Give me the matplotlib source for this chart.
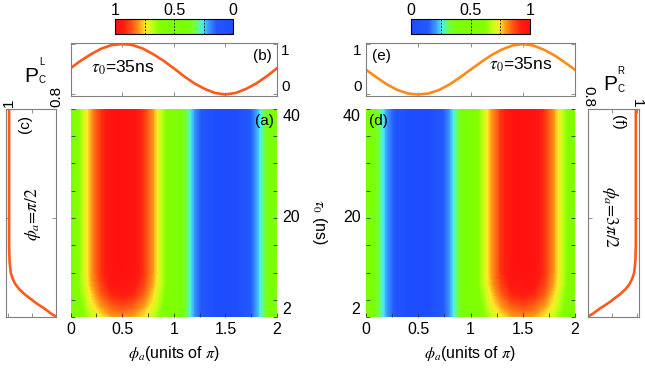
import numpy as np
import matplotlib
matplotlib.use("Agg")
import matplotlib.pyplot as plt
from matplotlib.colors import LinearSegmentedColormap
from matplotlib.cm import ScalarMappable
from matplotlib.colors import Normalize

plt.rcParams['font.family'] = ['Liberation Sans', 'DejaVu Sans']
plt.rcParams['mathtext.fontset'] = 'stix'
plt.rcParams['font.size'] = 11

# --- data ---
phi = [0.0, 0.1, 0.2, 0.3, 0.4, 0.5, 0.6, 0.7, 0.8, 0.9, 1.0,
       1.1, 1.2, 1.3, 1.4, 1.5, 1.6, 1.7, 1.8, 1.9, 2.0]
tau = [2, 3, 4, 5, 6, 8, 10, 12, 40]

# P_C^L(phi, tau), rows follow tau
pl_map = [
    [0.50, 0.59, 0.68, 0.74, 0.79, 0.80, 0.79, 0.74, 0.68, 0.59, 0.50, 0.35, 0.21, 0.10, 0.02, 0.00, 0.02, 0.10, 0.21, 0.35, 0.50],
    [0.50, 0.60, 0.70, 0.77, 0.82, 0.84, 0.82, 0.77, 0.70, 0.60, 0.50, 0.35, 0.21, 0.10, 0.02, 0.00, 0.02, 0.10, 0.21, 0.35, 0.50],
    [0.50, 0.61, 0.72, 0.80, 0.85, 0.87, 0.85, 0.80, 0.72, 0.61, 0.50, 0.35, 0.21, 0.10, 0.02, 0.00, 0.02, 0.10, 0.21, 0.35, 0.50],
    [0.50, 0.62, 0.74, 0.82, 0.88, 0.90, 0.88, 0.82, 0.74, 0.62, 0.50, 0.35, 0.21, 0.10, 0.02, 0.00, 0.02, 0.10, 0.21, 0.35, 0.50],
    [0.50, 0.63, 0.75, 0.85, 0.91, 0.93, 0.91, 0.85, 0.75, 0.63, 0.50, 0.35, 0.21, 0.10, 0.02, 0.00, 0.02, 0.10, 0.21, 0.35, 0.50],
    [0.50, 0.65, 0.78, 0.88, 0.95, 0.97, 0.95, 0.88, 0.78, 0.65, 0.50, 0.35, 0.21, 0.10, 0.02, 0.00, 0.02, 0.10, 0.21, 0.35, 0.50],
    [0.50, 0.65, 0.79, 0.90, 0.97, 0.99, 0.97, 0.90, 0.79, 0.65, 0.50, 0.35, 0.21, 0.10, 0.02, 0.00, 0.02, 0.10, 0.21, 0.35, 0.50],
    [0.50, 0.65, 0.79, 0.90, 0.98, 1.00, 0.98, 0.90, 0.79, 0.65, 0.50, 0.35, 0.21, 0.10, 0.02, 0.00, 0.02, 0.10, 0.21, 0.35, 0.50],
    [0.50, 0.65, 0.79, 0.90, 0.98, 1.00, 0.98, 0.90, 0.79, 0.65, 0.50, 0.35, 0.21, 0.10, 0.02, 0.00, 0.02, 0.10, 0.21, 0.35, 0.50],
]

# P_C^R(phi, tau)
pr_map = [
    [0.50, 0.35, 0.21, 0.10, 0.02, 0.00, 0.02, 0.10, 0.21, 0.35, 0.50, 0.59, 0.68, 0.74, 0.79, 0.80, 0.79, 0.74, 0.68, 0.59, 0.50],
    [0.50, 0.35, 0.21, 0.10, 0.02, 0.00, 0.02, 0.10, 0.21, 0.35, 0.50, 0.60, 0.70, 0.77, 0.82, 0.84, 0.82, 0.77, 0.70, 0.60, 0.50],
    [0.50, 0.35, 0.21, 0.10, 0.02, 0.00, 0.02, 0.10, 0.21, 0.35, 0.50, 0.61, 0.72, 0.80, 0.85, 0.87, 0.85, 0.80, 0.72, 0.61, 0.50],
    [0.50, 0.35, 0.21, 0.10, 0.02, 0.00, 0.02, 0.10, 0.21, 0.35, 0.50, 0.62, 0.74, 0.82, 0.88, 0.90, 0.88, 0.82, 0.74, 0.62, 0.50],
    [0.50, 0.35, 0.21, 0.10, 0.02, 0.00, 0.02, 0.10, 0.21, 0.35, 0.50, 0.63, 0.75, 0.85, 0.91, 0.93, 0.91, 0.85, 0.75, 0.63, 0.50],
    [0.50, 0.35, 0.21, 0.10, 0.02, 0.00, 0.02, 0.10, 0.21, 0.35, 0.50, 0.65, 0.78, 0.88, 0.95, 0.97, 0.95, 0.88, 0.78, 0.65, 0.50],
    [0.50, 0.35, 0.21, 0.10, 0.02, 0.00, 0.02, 0.10, 0.21, 0.35, 0.50, 0.65, 0.79, 0.90, 0.97, 0.99, 0.97, 0.90, 0.79, 0.65, 0.50],
    [0.50, 0.35, 0.21, 0.10, 0.02, 0.00, 0.02, 0.10, 0.21, 0.35, 0.50, 0.65, 0.79, 0.90, 0.98, 1.00, 0.98, 0.90, 0.79, 0.65, 0.50],
    [0.50, 0.35, 0.21, 0.10, 0.02, 0.00, 0.02, 0.10, 0.21, 0.35, 0.50, 0.65, 0.79, 0.90, 0.98, 1.00, 0.98, 0.90, 0.79, 0.65, 0.50],
]

# cuts at tau0 = 35 ns (panels b, e)
pl_cut = [0.52, 0.67, 0.80, 0.91, 0.98, 1.00, 0.98, 0.91, 0.80, 0.67, 0.52,
          0.36, 0.22, 0.11, 0.03, 0.00, 0.03, 0.11, 0.22, 0.36, 0.52]
pr_cut = [0.49, 0.34, 0.20, 0.09, 0.02, 0.00, 0.02, 0.09, 0.20, 0.34, 0.49,
          0.64, 0.78, 0.89, 0.97, 1.00, 0.97, 0.89, 0.78, 0.64, 0.49]

# cuts at phi = pi/2 and 3pi/2 (panels c, f)
tau_cut = [2, 2.5, 3, 3.5, 4, 4.5, 5, 6, 7, 8, 9, 10, 12, 15, 20, 30, 40]
pl_tau = [0.80, 0.82, 0.835, 0.85, 0.868, 0.885, 0.90, 0.93, 0.955, 0.972, 0.983,
          0.99, 0.995, 0.997, 0.997, 0.997, 0.997]
pr_tau = [0.80, 0.82, 0.835, 0.85, 0.868, 0.885, 0.90, 0.93, 0.955, 0.972, 0.983,
          0.99, 0.995, 0.997, 0.997, 0.997, 0.997]

# colour map: blue - cyan - green - yellow - red
cmap = LinearSegmentedColormap.from_list('bgyr', [
    (0.00, '#1e4cff'), (0.14, '#2358ff'), (0.21, '#3c9cff'), (0.26, '#48f0f0'),
    (0.32, '#70ff40'), (0.38, '#7aff08'), (0.62, '#82ff00'), (0.69, '#c8ff18'),
    (0.745, '#ffe828'), (0.80, '#ff9418'), (0.87, '#ff4a12'), (0.93, '#ff1c10'),
    (1.00, '#ff1010')])
levels = np.linspace(0, 1, 101)

W, H = 645, 372
fig = plt.figure(figsize=(6.45, 3.72), dpi=100)


def box(x0, y0, x1, y1):
    return [x0 / W, 1 - y1 / H, (x1 - x0) / W, (y1 - y0) / H]


GRAY = '#7f7f7f'


def frame(ax):
    for s in ax.spines.values():
        s.set_color(GRAY)
        s.set_linewidth(0.8)


def heatmap(ax, data, side):
    ax.contourf(phi, tau, data, levels=levels, cmap=cmap, extend='both')
    ax.set_xlim(0, 2)
    ax.set_ylim(2, 40)
    ax.set_xticks([0, 0.5, 1, 1.5, 2], labels=['0', '0.5', '1', '1.5', '2'])
    ax.set_xticks([0.25, 0.75, 1.25, 1.75], minor=True)
    ax.set_yticks([2, 20, 40], labels=['2', '20', '40'])
    ax.set_yticks([5, 10, 15, 25, 30, 35], minor=True)
    ax.tick_params(which='both', direction='in', length=3, width=0.6,
                   color='#333333', top=False, left=True, right=True,
                   labelleft=(side == 'left'), labelright=(side == 'right'),
                   pad=4, labelsize=11.5)
    for lab, va in zip(ax.get_yticklabels(), ['bottom', 'center', 'top']):
        lab.set_verticalalignment(va)
    ax.set_xlabel(r'$\phi_a$(units of $\pi$)', labelpad=5, fontsize=11.5)
    for s in ax.spines.values():
        s.set_visible(False)


def top_cut(ax, y, color, side):
    ax.plot(phi, y, color=color, lw=1.9)
    ax.set_xlim(0, 2)
    ax.set_ylim(-0.02, 1.02)
    ax.set_xticks([0.5, 1, 1.5], labels=[])
    ax.set_yticks([0, 1], labels=['0', '1'])
    ax.tick_params(which='both', direction='in', length=3, width=0.6, color=GRAY,
                   top=True, bottom=True, left=True, right=True,
                   labelleft=(side == 'left'), labelright=(side == 'right'), pad=3)
    for lab, va in zip(ax.get_yticklabels(), ['bottom', 'top']):
        lab.set_verticalalignment(va)
    frame(ax)


def side_cut(ax, p, color, rot, xlim):
    ax.plot(p, tau_cut, color=color, lw=1.9)
    ax.set_xlim(*xlim)
    ax.set_ylim(2, 40)
    ax.set_xticks([0.8, 0.9, 1.0], labels=['0.8', '', '1'])
    ax.set_yticks([2, 20, 40], labels=[])
    ax.tick_params(which='both', direction='in', length=3, width=0.6, color=GRAY,
                   top=True, bottom=True, left=True, right=True,
                   labelbottom=False, labeltop=True, pad=1)
    for lab in ax.get_xticklabels():
        lab.set_rotation(rot)
    frame(ax)


# heatmaps
ax_a = fig.add_axes(box(70.5, 108.5, 277, 316.5))
heatmap(ax_a, pl_map, 'right')
ax_a.text(0.985, 0.975, '(a)', transform=ax_a.transAxes, ha='right', va='top')

ax_d = fig.add_axes(box(366, 108.5, 575, 316.5))
heatmap(ax_d, pr_map, 'left')
ax_d.text(0.015, 0.975, '(d)', transform=ax_d.transAxes, ha='left', va='top')

fig.text(319 / W, 1 - 222 / H, r'$\tau_0$ (ns)', rotation=270,
         ha='center', va='center', fontsize=11.5)

# cuts along phi
ax_b = fig.add_axes(box(70.5, 43, 277, 95.5))
top_cut(ax_b, pl_cut, '#ff5a1a', 'right')
ax_b.text(0.975, 0.88, '(b)', transform=ax_b.transAxes, ha='right', va='top')
ax_b.text(0.10, 0.52, r'$\tau_0$=35ns', transform=ax_b.transAxes,
          ha='left', va='center', fontsize=12.5)

ax_e = fig.add_axes(box(366, 43, 575, 95.5))
top_cut(ax_e, pr_cut, '#ff8a1a', 'left')
ax_e.text(0.03, 0.88, '(e)', transform=ax_e.transAxes, ha='left', va='top')
ax_e.text(0.59, 0.58, r'$\tau_0$=35ns', transform=ax_e.transAxes,
          ha='left', va='center', fontsize=12.5)

# cuts along tau
ax_c = fig.add_axes(box(6, 108.5, 56, 316.5))
side_cut(ax_c, pl_tau, '#ff5a1a', 90, (1.01, 0.8))
ax_c.text(0.38, 0.97, '(c)', transform=ax_c.transAxes, rotation=90,
          ha='center', va='top')
ax_c.text(0.54, 0.49, r'$\phi_a$=$\pi$/2', transform=ax_c.transAxes,
          rotation=90, ha='center', va='center', fontsize=12.5,
          family='STIXGeneral')

ax_f = fig.add_axes(box(588, 108.5, 639, 316.5))
side_cut(ax_f, pr_tau, '#ff5a1a', -90, (0.8, 1.01))
ax_f.text(0.59, 0.97, '(f)', transform=ax_f.transAxes, rotation=-90,
          ha='center', va='top')
ax_f.text(0.43, 0.48, r'$\phi_a$=3$\pi$/2', transform=ax_f.transAxes,
          rotation=-90, ha='center', va='center', fontsize=12.5,
          family='STIXGeneral')

# P labels
fig.text(31 / W, 1 - 76 / H, 'P', fontsize=15, ha='center', va='center')
fig.text(42 / W, 1 - 80 / H, 'C', fontsize=7, ha='center', va='center')
fig.text(42 / W, 1 - 62 / H, 'L', fontsize=7, ha='center', va='center')
fig.text(610 / W, 1 - 85 / H, 'P', fontsize=15, ha='center', va='center')
fig.text(621 / W, 1 - 89 / H, 'C', fontsize=7, ha='center', va='center')
fig.text(621 / W, 1 - 71 / H, 'R', fontsize=7, ha='center', va='center')

# colour bars
sm = ScalarMappable(norm=Normalize(0, 1), cmap=cmap)
for x0, x1, flip in [(115, 233, True), (411, 530, False)]:
    cax = fig.add_axes(box(x0, 19, x1, 34))
    cb = fig.colorbar(sm, cax=cax, orientation='horizontal')
    cb.set_ticks([0, 0.5, 1], labels=['0', '0.5', '1'])
    cax.xaxis.set_ticks_position('top')
    cax.tick_params(length=0, pad=1, labelsize=11.5)
    cb.outline.set_linewidth(0.8)
    for v in [0.25, 0.5, 0.75]:
        cax.axvline(v, color='black', lw=0.6, ls=(0, (2, 2)))
    if flip:
        cax.invert_xaxis()

fig.savefig('out.png', dpi=100)
